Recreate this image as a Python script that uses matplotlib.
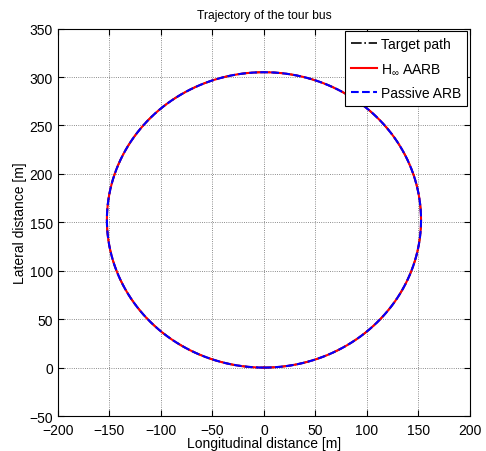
import numpy as np
import matplotlib
matplotlib.use("Agg")
import matplotlib.pyplot as plt

plt.rcParams["font.family"] = ["Liberation Sans", "DejaVu Sans"]
plt.rcParams["mathtext.fontset"] = "custom"
plt.rcParams["mathtext.rm"] = "Liberation Sans"

# circular trajectory (metres)
center_x = 0.0
center_y = 152.5
radius = 152.5
n_points = 361

x_ticks = [-200, -150, -100, -50, 0, 50, 100, 150, 200]
y_ticks = [-50, 0, 50, 100, 150, 200, 250, 300, 350]

theta = np.linspace(-np.pi / 2, 1.5 * np.pi, n_points)
x_path = center_x + radius * np.cos(theta)
y_path = center_y + radius * np.sin(theta)

fig = plt.figure(figsize=(4.86, 4.52), dpi=100)
ax = fig.add_axes([0.1193, 0.0774, 0.8477, 0.857])

ax.plot(x_path, y_path, color="black", linestyle="-.", linewidth=1.2, label="Target path")
ax.plot(x_path, y_path, color="red", linestyle="-", linewidth=1.5, label="H$_{\\infty}$ AARB")
ax.plot(x_path, y_path, color="blue", linestyle="--", linewidth=1.5, label="Passive ARB")

ax.set_xlim(-200, 200)
ax.set_ylim(-50, 350)
ax.set_xticks(x_ticks)
ax.set_yticks(y_ticks)
ax.tick_params(direction="in", labelsize=10, length=4, top=True, right=True)
ax.tick_params(axis="x", pad=5)
ax.grid(True, linestyle=":", color="black", linewidth=0.6, alpha=0.6)
for spine in ax.spines.values():
    spine.set_linewidth(0.8)

ax.set_title("Trajectory of the tour bus", fontsize=8.7, pad=8)
ax.set_xlabel("Longitudinal distance [m]", fontsize=10, labelpad=-1)
ax.set_ylabel("Lateral distance [m]", fontsize=10, labelpad=2)

leg = ax.legend(loc="upper right", fontsize=10, fancybox=False, framealpha=1,
                edgecolor="black", borderaxespad=0.2, handlelength=1.9,
                handletextpad=0.3, labelspacing=0.75, borderpad=0.4)
leg.get_frame().set_linewidth(0.8)

fig.savefig("out.png", dpi=100)
